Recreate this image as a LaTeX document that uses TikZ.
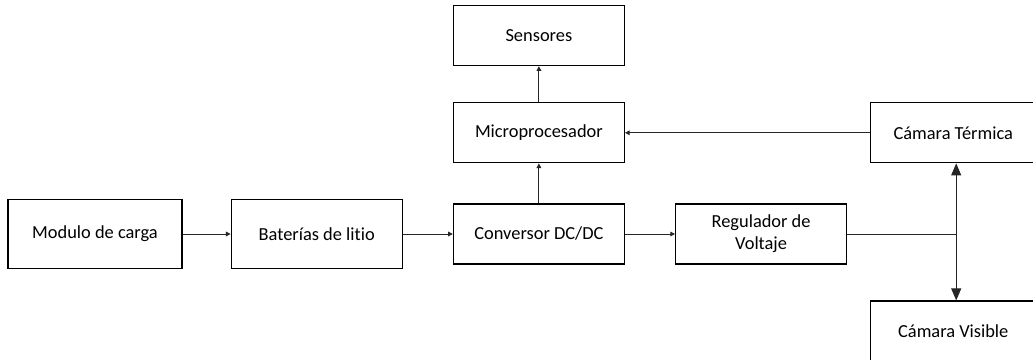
\documentclass[tikz,border=0pt]{standalone}
\usepackage{fontspec}
\setmainfont[Ligatures=NoCommon]{Carlito}
\usetikzlibrary{arrows.meta,positioning}
\definecolor{trazo}{HTML}{262626}

\begin{document}
\begin{tikzpicture}[>={Triangle[length=3.5pt,width=3.5pt]},
  b/.style={draw,line width=0.9pt,minimum height=45pt,minimum width=128.25pt,
    align=center,font=\fontsize{13.8}{16.5}\selectfont},
  w/.style={draw=trazo,line width=0.7pt},
  big/.style={w,{Triangle[length=9pt,width=7.5pt]}-{Triangle[length=9pt,width=7.5pt]}}]
\useasboundingbox (0,0) rectangle (774.75pt,-270pt);
\node[b,minimum width=130.5pt,minimum height=51.75pt] (carga) at (71.25pt,-175.5pt) {Modulo de carga};
\node[b,minimum height=51.75pt,right=36pt of carga] (bat) {Baterías de litio};
\node[b,right=37.5pt of bat] (conv) {Conversor DC/DC};
\node[b,right=37.5pt of conv] (reg) {Regulador de\\Voltaje};
\node[b,above=30pt of conv] (micro) {Microprocesador};
\node[b,above=27pt of micro] (sens) {Sensores};
\node[b,minimum width=124pt,right=183.75pt of micro] (term) {Cámara Térmica};
\node[b,minimum width=124pt,below=102.75pt of term] (vis) {Cámara Visible};
\coordinate[right=81.75pt of reg.east] (j);
% cadena de alimentacion
\draw[w,->] (carga) -- (bat);
\draw[w,->] (bat) -- (conv);
\draw[w,->] (conv) -- (reg);
\draw[w,->] (conv) -- (micro);
\draw[w,->] (micro) -- (sens);
\draw[w,->] (term) -- (micro);
% salida del regulador hacia las camaras
\draw[w] (reg) -- (j);
\draw[big] (j |- term.south) -- (j |- vis.north);
\end{tikzpicture}
\end{document}
